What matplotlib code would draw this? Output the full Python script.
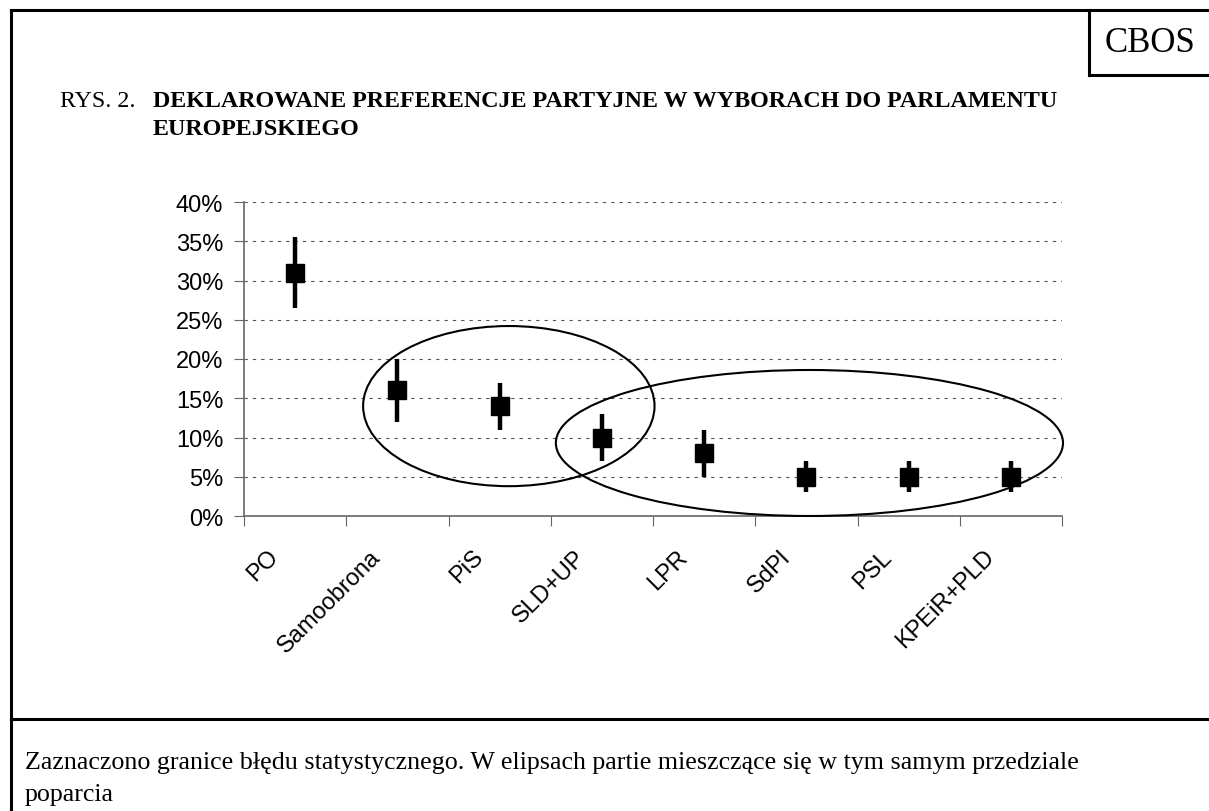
import matplotlib
matplotlib.use('Agg')
import matplotlib.pyplot as plt
import matplotlib.transforms as mtransforms
from matplotlib.patches import Ellipse
from matplotlib.lines import Line2D

# dane (w %)
partie = ['PO', 'Samoobrona', 'PiS', 'SLD+UP', 'LPR', 'SdPl', 'PSL', 'KPEiR+PLD']
poparcie = [31, 16, 14, 10, 8, 5, 5, 5]
dolna_granica = [26.5, 12, 11, 7, 5, 3, 3, 3]
gorna_granica = [35.5, 20, 17, 13, 11, 7, 7, 7]
y_ticks = [0, 5, 10, 15, 20, 25, 30, 35, 40]

fig = plt.figure(figsize=(12.09, 8.12), dpi=100)
ax = fig.add_axes([244 / 1209, 1 - 517 / 812, (1062 - 244) / 1209, (517 - 203) / 812])

x = list(range(len(partie)))
err_low = [p - d for p, d in zip(poparcie, dolna_granica)]
err_high = [g - p for p, g in zip(poparcie, gorna_granica)]
ax.errorbar(x, poparcie, yerr=[err_low, err_high], fmt='s', color='black',
            markersize=13, elinewidth=3.2, capsize=0, zorder=3)

# elipsy - partie w tym samym przedziale poparcia
ax.add_patch(Ellipse((2.09, 14.0), 2.85, 20.4, fill=False, lw=1.5,
                     edgecolor='black', clip_on=False, zorder=4))
ax.add_patch(Ellipse((5.03, 9.3), 4.96, 18.6, fill=False, lw=1.5,
                     edgecolor='black', clip_on=False, zorder=4))

ax.set_xlim(-0.5, len(partie) - 0.5)
ax.set_ylim(0, 40)
ax.set_yticks(y_ticks)
ax.set_yticklabels([f'{v}%' for v in y_ticks], fontsize=17, family='Liberation Sans')
for v in y_ticks[1:]:
    ax.axhline(v, color='#555555', lw=0.8, ls=(0, (3, 4.5)), zorder=1)

ax.set_xticks([i - 0.5 for i in range(len(partie) + 1)])
ax.set_xticklabels([])
ax.set_xticks(x, minor=True)
ax.set_xticklabels(partie, minor=True, rotation=45, ha='right', va='top',
                   fontsize=17, family='Liberation Sans')
ax.tick_params(axis='x', which='minor', length=0, pad=21)
ax.tick_params(axis='x', which='major', length=7, color='#666666', direction='out')
ax.tick_params(axis='y', length=7, color='#666666', direction='out', pad=8)

# przesunięcie etykiet w lewo, jak w oryginale
shift = mtransforms.ScaledTranslation(-12 / 100, 0, fig.dpi_scale_trans)
for lab in ax.get_xticklabels(minor=True):
    lab.set_transform(lab.get_transform() + shift)

for s in ['top', 'right']:
    ax.spines[s].set_visible(False)
for s in ['left', 'bottom']:
    ax.spines[s].set_color('#666666')
    ax.spines[s].set_linewidth(1.2)

# ramki
def fig_line(x0, y0, x1, y1, lw=2.2):
    fig.add_artist(Line2D([x0 / 1209, x1 / 1209], [1 - y0 / 812, 1 - y1 / 812],
                          color='black', lw=lw, transform=fig.transFigure))

fig_line(11, 11, 1209, 11)
fig_line(11, 11, 11, 812)
fig_line(11, 720, 1209, 720)
fig_line(1089, 11, 1089, 76)
fig_line(1089, 76, 1209, 76)

serif = 'Liberation Serif'
fig.text(1150 / 1209, 1 - 44 / 812, 'CBOS', family=serif, fontsize=25,
         ha='center', va='center')
fig.text(60 / 1209, 1 - 107 / 812, 'RYS. 2.', family=serif, fontsize=17.3,
         va='baseline')
fig.text(153 / 1209, 1 - 107 / 812,
         'DEKLAROWANE PREFERENCJE PARTYJNE W WYBORACH DO PARLAMENTU',
         family=serif, fontsize=17.3, fontweight='bold', va='baseline')
fig.text(153 / 1209, 1 - 135 / 812, 'EUROPEJSKIEGO',
         family=serif, fontsize=17.3, fontweight='bold', va='baseline')

fig.text(25 / 1209, 1 - 769 / 812,
         'Zaznaczono granice błędu statystycznego. W elipsach partie mieszczące się w tym samym przedziale',
         family=serif, fontsize=18.7, va='baseline')
fig.text(25 / 1209, 1 - 801 / 812, 'poparcia', family=serif, fontsize=18.7,
         va='baseline')

fig.savefig('out.png', dpi=100)
